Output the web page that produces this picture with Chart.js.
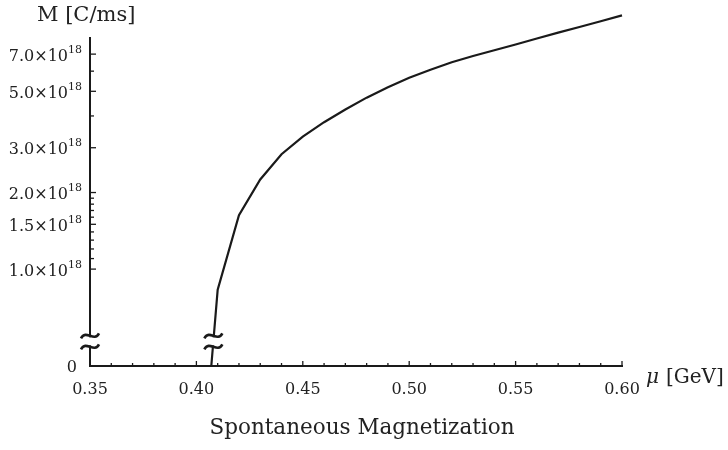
<!DOCTYPE html>
<html>
<head>
<meta charset="utf-8">
<script src="https://cdn.jsdelivr.net/npm/chart.js@4.4.0/dist/chart.umd.min.js"></script>
<style>
  html, body { margin: 0; padding: 0; background: #fff; }
  canvas { display: block; }
</style>
</head>
<body>
<canvas id="chart-mag" width="728" height="450"></canvas>
<script>
// chemical potential mu [GeV]
var mu = [0.407, 0.41, 0.42, 0.43, 0.44, 0.45, 0.46, 0.47, 0.48, 0.49, 0.50,
          0.51, 0.52, 0.53, 0.54, 0.55, 0.56, 0.57, 0.58, 0.59, 0.60];
// spontaneous magnetization, in units of 10^18 C/ms
var magnetization = [0, 0.83, 1.63, 2.25, 2.83, 3.32, 3.78, 4.24, 4.72, 5.19, 5.65,
                     6.08, 6.50, 6.88, 7.25, 7.64, 8.06, 8.50, 8.95, 9.43, 9.94];

var xTickValues = [0.35, 0.40, 0.45, 0.50, 0.55, 0.60];
var xMinorTicks = [0.36, 0.37, 0.38, 0.39, 0.41, 0.42, 0.43, 0.44, 0.46, 0.47, 0.48, 0.49,
                   0.51, 0.52, 0.53, 0.54, 0.56, 0.57, 0.58, 0.59];
var yTickValues = [1.0, 1.5, 2.0, 3.0, 5.0, 7.0];
var yMinorTicks = [1.1, 1.2, 1.3, 1.4, 1.6, 1.7, 1.8, 1.9, 4.0, 6.0];
var yExponent = "18";

var chartTitle = "Spontaneous Magnetization";
var yTitle = "M [C/ms]";
var xTitleSymbol = "\u03bc";
var xTitleUnit = "[GeV]";

var Y_FLOOR = 0.416; // bottom of the broken log axis, stands for M = 0
var Y_TOP = 8.1;
var Y_BREAK = 0.52;

var INK = "#1a1a1a";
var TEXT = "#222";
var SERIF = "'DejaVu Serif'";

var points = mu.map(function (m, i) {
  var v = magnetization[i];
  return { x: m, y: v === 0 ? Y_FLOOR : v };
});

function drawBreak(ctx, cx, cy) {
  ctx.save();
  ctx.fillStyle = "#fff";
  ctx.fillRect(cx - 9, cy - 4, 18, 8);
  ctx.strokeStyle = INK;
  ctx.lineWidth = 2.6;
  [-5.5, 5.5].forEach(function (dy) {
    var y = cy + dy;
    ctx.beginPath();
    ctx.moveTo(cx - 9, y + 2.5);
    ctx.bezierCurveTo(cx - 4, y - 7, cx + 4, y + 7, cx + 9, y - 2.5);
    ctx.stroke();
  });
  ctx.restore();
}

var decor = {
  id: "decor",
  afterDraw: function (chart) {
    var ctx = chart.ctx;
    var xs = chart.scales.x;
    var ys = chart.scales.y;
    var area = chart.chartArea;

    ctx.save();
    ctx.strokeStyle = INK;
    ctx.lineWidth = 1.3;
    // inward tick marks
    xTickValues.forEach(function (v) {
      var px = xs.getPixelForValue(v);
      ctx.beginPath(); ctx.moveTo(px, area.bottom); ctx.lineTo(px, area.bottom - 5); ctx.stroke();
    });
    xMinorTicks.forEach(function (v) {
      var px = xs.getPixelForValue(v);
      ctx.beginPath(); ctx.moveTo(px, area.bottom); ctx.lineTo(px, area.bottom - 3); ctx.stroke();
    });
    yTickValues.forEach(function (v) {
      var py = ys.getPixelForValue(v);
      ctx.beginPath(); ctx.moveTo(area.left, py); ctx.lineTo(area.left + 6, py); ctx.stroke();
    });
    yMinorTicks.forEach(function (v) {
      var py = ys.getPixelForValue(v);
      ctx.beginPath(); ctx.moveTo(area.left, py); ctx.lineTo(area.left + 4, py); ctx.stroke();
    });
    ctx.restore();

    // axis breaks
    var yb = ys.getPixelForValue(Y_BREAK);
    drawBreak(ctx, area.left, yb);
    var pts = chart.getDatasetMeta(0).data;
    var p0 = pts[0], p1 = pts[1];
    var t = (yb - p0.y) / (p1.y - p0.y);
    drawBreak(ctx, p0.x + t * (p1.x - p0.x), yb);

    ctx.save();
    ctx.fillStyle = TEXT;
    ctx.textBaseline = "alphabetic";

    // y tick labels with a raised exponent
    yTickValues.forEach(function (v) {
      var py = ys.getPixelForValue(v);
      ctx.font = "11px " + SERIF;
      var expW = ctx.measureText(yExponent).width;
      var right = area.left - 8;
      ctx.textAlign = "right";
      ctx.fillText(yExponent, right, py - 1.5);
      ctx.font = "16px " + SERIF;
      ctx.fillText(v.toFixed(1) + "\u00d710", right - expW, py + 6.5);
    });
    ctx.font = "16px " + SERIF;
    ctx.textAlign = "right";
    ctx.fillText("0", area.left - 13, ys.getPixelForValue(Y_FLOOR) + 6);

    // axis titles
    ctx.textAlign = "left";
    ctx.font = "21px " + SERIF;
    ctx.fillText(yTitle, 37, 21);
    ctx.font = "italic 20px " + SERIF;
    ctx.fillText(xTitleSymbol, 646, 383);
    ctx.font = "20px " + SERIF;
    ctx.fillText(xTitleUnit, 666, 383);

    // caption under the plot
    ctx.textAlign = "center";
    ctx.textBaseline = "middle";
    ctx.font = "21.5px " + SERIF;
    ctx.fillText(chartTitle, 362, 428);
    ctx.restore();
  },
};

var ctx = document.getElementById("chart-mag").getContext("2d");

new Chart(ctx, {
  type: "line",
  data: {
    datasets: [
      {
        label: "M",
        data: points,
        borderColor: INK,
        borderWidth: 2.2,
        pointRadius: 0,
        tension: 0,
        fill: false,
        clip: false,
      },
    ],
  },
  options: {
    responsive: false,
    animation: false,
    layout: {
      padding: { top: 38, right: 106, left: 0, bottom: 0 },
    },
    plugins: {
      legend: { display: false },
      tooltip: { enabled: false },
      title: { display: false },
    },
    scales: {
      x: {
        type: "linear",
        min: 0.35,
        max: 0.6,
        afterBuildTicks: function (scale) {
          scale.ticks = xTickValues.map(function (v) { return { value: v }; });
        },
        afterFit: function (scale) {
          scale.height = 84;
        },
        grid: { display: false, drawTicks: false },
        border: { display: true, color: INK, width: 2 },
        ticks: {
          padding: 14,
          color: TEXT,
          maxRotation: 0,
          font: { family: "DejaVu Serif", size: 16 },
          callback: function (value) {
            return value.toFixed(2);
          },
        },
      },
      y: {
        type: "logarithmic",
        min: Y_FLOOR,
        max: Y_TOP,
        afterBuildTicks: function (scale) {
          scale.ticks = [Y_FLOOR].concat(yTickValues).map(function (v) { return { value: v }; });
        },
        afterFit: function (scale) {
          scale.width = 90;
        },
        grid: { display: false, drawTicks: false },
        border: { display: true, color: INK, width: 2 },
        ticks: { display: false },
      },
    },
  },
  plugins: [decor],
});
</script>
</body>
</html>
